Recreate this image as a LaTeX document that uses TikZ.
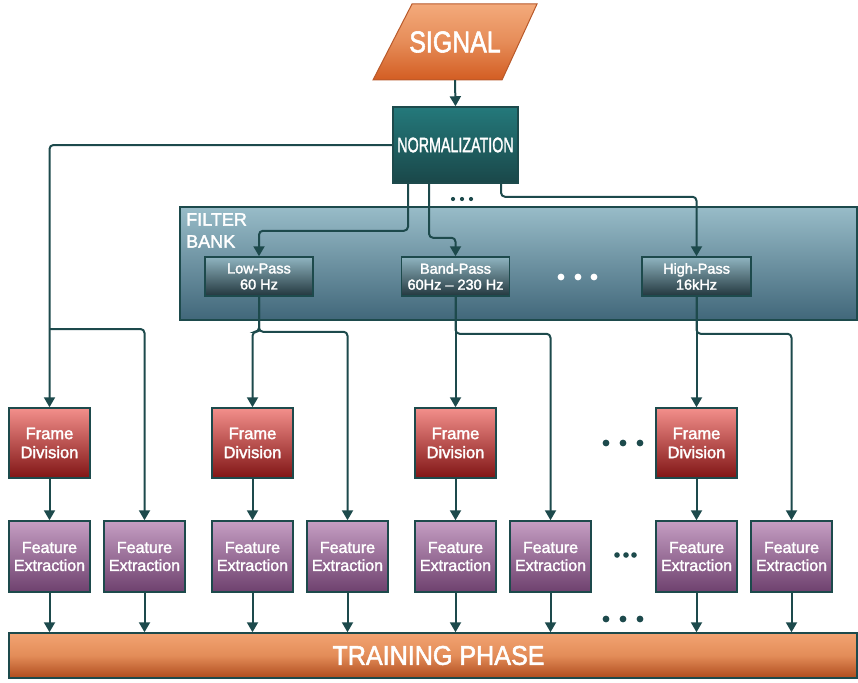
\documentclass[tikz,border=0pt]{standalone}
\usepackage{fontspec}
\usepackage{graphicx}
\setmainfont{Liberation Sans}[FakeBold=2]
\usetikzlibrary{arrows.meta}

\definecolor{lineC}{HTML}{1D4A4C}
\definecolor{normTop}{HTML}{24797B}
\definecolor{normBot}{HTML}{1A4749}
\definecolor{fbTop}{HTML}{98BCC8}
\definecolor{fbBot}{HTML}{41677A}
\definecolor{filtTop}{HTML}{8FB4C0}
\definecolor{filtBot}{HTML}{23373E}
\definecolor{fdTop}{HTML}{F38F8B}
\definecolor{fdBot}{HTML}{801515}
\definecolor{feTop}{HTML}{C59EC3}
\definecolor{feBot}{HTML}{6E416E}
\definecolor{orTop}{HTML}{F3AA7B}
\definecolor{orMid}{HTML}{E68C58}
\definecolor{orBot}{HTML}{D35D22}
\definecolor{trTop}{HTML}{F2A372}
\definecolor{trMid}{HTML}{E38C58}
\definecolor{trBot}{HTML}{AF4C1E}
\definecolor{orLine}{HTML}{B8592A}

\tikzset{
  arr/.style={draw=lineC, line width=2pt, -{Triangle[length=10pt,width=11pt]}},
  rc/.style={rounded corners=4pt},
  box/.style={draw=lineC, line width=1.5pt, inner sep=0pt, align=center, text=white},
  normbox/.style={box, top color=normTop, bottom color=normBot,
    minimum width=125pt, minimum height=76pt},
  bankbox/.style={box, top color=fbTop, bottom color=fbBot,
    minimum width=677pt, minimum height=113pt},
  filtbox/.style={box, top color=filtTop, bottom color=filtBot,
    minimum width=108pt, minimum height=39pt,
    font=\fontsize{14.5}{16}\selectfont},
  framebox/.style={box, top color=fdTop, bottom color=fdBot,
    minimum width=81pt, minimum height=70pt,
    font=\fontsize{16.5}{19}\selectfont},
  featbox/.style={box, top color=feTop, bottom color=feBot,
    minimum width=81pt, minimum height=71pt,
    font=\fontsize{16}{18}\selectfont},
  trainbox/.style={box, top color=trTop, bottom color=trBot, middle color=trMid,
    minimum width=848pt, minimum height=45pt,
    font=\fontsize{27}{27}\selectfont},
  darkdot/.style={fill=lineC},
  lightdot/.style={fill=white},
}

\begin{document}
\begin{tikzpicture}[x=1pt, y=-1pt]
\useasboundingbox (0,0) rectangle (858,682);

% input parallelogram
\shade[top color=orTop, bottom color=orBot, middle color=orMid, draw=orLine, line width=1pt]
  (412,4) -- (537,4) -- (502,80) -- (373,80) -- cycle;
\node (signal) [inner sep=0pt, minimum width=120pt, minimum height=76pt, text=white,
  font=\fontsize{30}{30}\selectfont] at (455,42) {\scalebox{0.83}[1]{SIGNAL}};

% normalization
\node (norm) [normbox, font=\fontsize{21}{21}\selectfont] at (455.5,145)
  {\scalebox{0.68}[1]{NORMALIZATION}};

% filter bank
\node (bank) [bankbox] at (518.5,263.5) {};
\node (banklabel) [anchor=north west, inner sep=0pt, align=left, text=white,
  font=\fontsize{18}{22}\selectfont] at (186,213) {FILTER\\BANK};
\node (lp) [filtbox] at (259,276.5) {Low-Pass\\60 Hz};
\node (bp) [filtbox] at (455.5,276.5) {Band-Pass\\60Hz -- 230 Hz};
\node (hp) [filtbox, minimum width=109pt] at (696.5,276.5) {High-Pass\\16kHz};
\foreach \x in {561,578,594} \fill[lightdot] (\x,277) circle (3.4);

% frame division row
\node (fd1) [framebox] at (49.5,443) {Frame\\Division};
\node (fd2) [framebox] at (252.5,443) {Frame\\Division};
\node (fd3) [framebox] at (455.5,443) {Frame\\Division};
\node (fd4) [framebox] at (696.5,443) {Frame\\Division};

% feature extraction row
\node (fe1) [featbox] at (49.5,556.5) {Feature\\Extraction};
\node (fe2) [featbox] at (144.5,556.5) {Feature\\Extraction};
\node (fe3) [featbox] at (252.5,556.5) {Feature\\Extraction};
\node (fe4) [featbox] at (347.5,556.5) {Feature\\Extraction};
\node (fe5) [featbox] at (455.5,556.5) {Feature\\Extraction};
\node (fe6) [featbox] at (550.5,556.5) {Feature\\Extraction};
\node (fe7) [featbox] at (696.5,556.5) {Feature\\Extraction};
\node (fe8) [featbox] at (791.5,556.5) {Feature\\Extraction};

% training stage
\node (train) [trainbox] at (433,655.5)
  {\hspace*{11pt}\scalebox{0.93}[1]{TRAINING PHASE}};

% continuation dots
\foreach \x in {453,462,471} \fill[darkdot] (\x,199) circle (2.1);
\foreach \x in {606,623,640} {
  \fill[darkdot] (\x,443) circle (3.4);
  \fill[darkdot] (\x,619) circle (3.4);
}
\foreach \x in {617,626,634} \fill[darkdot] (\x,555) circle (2.8);

% signal to normalization
\draw[arr] (signal.south) -- (norm.north);

% normalized signal straight to the first frame division
\draw[arr, rc] (norm.west) -| (fd1.north);
\coordinate (j1) at (49.5,329);
\draw[arr, rc] (j1) -| (fe2.north);

% normalization into the filters
\draw[arr, rc] ([xshift=-47.5pt]norm.south) -- ++(0,47) -| (lp.north);
\draw[arr, rc] ([xshift=-26.5pt]norm.south) -- ++(0,54) -| (bp.north);
\draw[arr, rc] ([xshift=45.5pt]norm.south) -- ++(0,13) -| (hp.north);

% filter outputs
\draw[arr, rc] (lp.south) -- ++(0,35) -| (fd2.north);
\draw[arr, rc] (lp.south) -- ++(0,35) -| (fe4.north);
\draw[arr] (bp.south) -- (fd3.north);
\draw[arr, rc] (bp.south) -- ++(0,37) -| (fe6.north);
\draw[arr] (hp.south) -- (fd4.north);
\draw[arr, rc] (hp.south) -- ++(0,37) -| (fe8.north);

% frame division to feature extraction
\foreach \i/\j in {fd1/fe1, fd2/fe3, fd3/fe5, fd4/fe7}
  \draw[arr] (\i.south) -- (\j.north);

% features into training
\foreach \i in {fe1,fe2,fe3,fe4,fe5,fe6,fe7,fe8}
  \draw[arr] (\i.south) -- (\i.south |- train.north);
\end{tikzpicture}
\end{document}
